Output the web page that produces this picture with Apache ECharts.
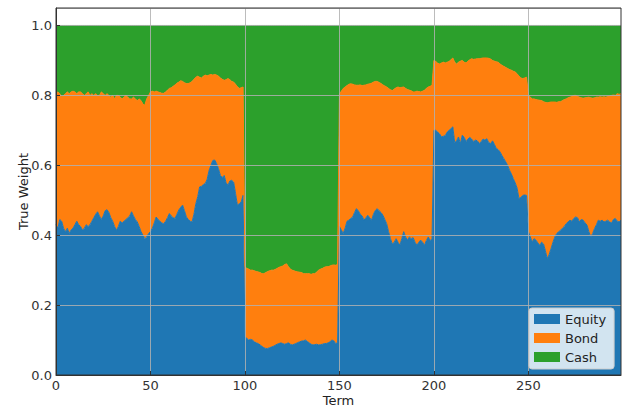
<!DOCTYPE html>
<html>
<head>
<meta charset="utf-8">
<script src="https://cdn.jsdelivr.net/npm/echarts@6/dist/echarts.min.js"></script>
<style>html,body{margin:0;padding:0;background:#fff;font-family:'DejaVu Sans',sans-serif}#c{width:624px;height:407px}</style>
</head>
<body>
<div id="c"></div>
<script>
// Equity weight (bottom band), read per term
const equity = [
0.43,0.42,0.445,0.44,0.42,0.41,0.42,0.405,0.415,0.42,
0.43,0.44,0.43,0.425,0.415,0.42,0.43,0.425,0.43,0.44,
0.45,0.46,0.467,0.455,0.445,0.455,0.47,0.473,0.465,0.45,
0.44,0.425,0.414,0.425,0.44,0.435,0.44,0.445,0.45,0.455,
0.467,0.455,0.445,0.438,0.425,0.41,0.40,0.39,0.395,0.405,
0.41,0.42,0.435,0.452,0.445,0.44,0.435,0.433,0.44,0.45,
0.462,0.455,0.45,0.448,0.46,0.472,0.48,0.486,0.47,0.452,
0.445,0.44,0.438,0.46,0.49,0.51,0.538,0.54,0.545,0.548,
0.56,0.585,0.60,0.614,0.615,0.605,0.59,0.571,0.565,0.571,
0.55,0.543,0.555,0.557,0.552,0.52,0.486,0.49,0.495,0.514,
0.108,0.105,0.10,0.102,0.10,0.095,0.092,0.09,0.086,0.082,
0.078,0.076,0.076,0.078,0.08,0.082,0.085,0.088,0.09,0.092,
0.09,0.088,0.09,0.092,0.088,0.086,0.088,0.09,0.093,0.095,
0.097,0.098,0.10,0.096,0.092,0.088,0.086,0.087,0.088,0.086,
0.087,0.088,0.09,0.09,0.092,0.095,0.10,0.098,0.09,0.092,
0.425,0.415,0.405,0.42,0.44,0.443,0.448,0.452,0.465,0.476,
0.47,0.46,0.455,0.443,0.45,0.457,0.45,0.443,0.46,0.471,
0.476,0.47,0.465,0.457,0.445,0.433,0.41,0.39,0.375,0.38,
0.39,0.38,0.371,0.39,0.41,0.395,0.386,0.395,0.39,0.393,
0.38,0.371,0.38,0.386,0.38,0.371,0.385,0.395,0.385,0.388,
0.70,0.70,0.695,0.69,0.681,0.683,0.685,0.695,0.70,0.705,
0.71,0.665,0.67,0.681,0.662,0.686,0.68,0.668,0.675,0.68,
0.675,0.668,0.672,0.67,0.662,0.668,0.675,0.672,0.676,0.665,
0.662,0.67,0.66,0.648,0.645,0.638,0.628,0.619,0.61,0.60,
0.586,0.575,0.562,0.55,0.535,0.505,0.508,0.514,0.515,0.514,
0.41,0.395,0.381,0.39,0.386,0.378,0.371,0.38,0.375,0.355,
0.333,0.345,0.362,0.38,0.395,0.405,0.41,0.414,0.42,0.425,
0.433,0.438,0.443,0.44,0.448,0.452,0.45,0.438,0.445,0.443,
0.435,0.429,0.41,0.395,0.405,0.419,0.43,0.443,0.44,0.443,
0.438,0.44,0.443,0.438,0.435,0.445,0.448,0.44,0.438,0.443
];
// Top edge of the Bond band (Equity + Bond), read per term
const bondTop = [
0.805,0.81,0.805,0.795,0.80,0.805,0.81,0.805,0.81,0.812,
0.81,0.805,0.81,0.81,0.805,0.80,0.805,0.81,0.80,0.805,
0.80,0.805,0.80,0.80,0.81,0.805,0.80,0.805,0.80,0.795,
0.80,0.79,0.80,0.80,0.795,0.79,0.795,0.80,0.795,0.79,
0.79,0.795,0.79,0.785,0.79,0.785,0.775,0.772,0.79,0.80,
0.81,0.812,0.81,0.812,0.81,0.808,0.806,0.806,0.81,0.815,
0.82,0.822,0.826,0.83,0.835,0.838,0.842,0.84,0.836,0.834,
0.834,0.836,0.84,0.846,0.852,0.855,0.852,0.85,0.855,0.858,
0.856,0.858,0.86,0.858,0.86,0.858,0.855,0.85,0.846,0.843,
0.845,0.848,0.845,0.84,0.838,0.832,0.825,0.82,0.822,0.824,
0.31,0.305,0.303,0.30,0.30,0.298,0.296,0.295,0.293,0.29,
0.29,0.293,0.296,0.298,0.30,0.30,0.302,0.305,0.308,0.31,
0.312,0.316,0.318,0.31,0.303,0.30,0.298,0.296,0.295,0.294,
0.293,0.29,0.29,0.29,0.29,0.288,0.29,0.29,0.295,0.30,
0.303,0.305,0.308,0.31,0.31,0.312,0.314,0.315,0.314,0.316,
0.805,0.812,0.82,0.824,0.828,0.832,0.833,0.832,0.83,0.829,
0.829,0.83,0.828,0.829,0.83,0.832,0.833,0.835,0.838,0.84,
0.84,0.837,0.834,0.83,0.827,0.824,0.82,0.816,0.814,0.818,
0.822,0.824,0.822,0.823,0.824,0.82,0.817,0.815,0.813,0.81,
0.81,0.812,0.811,0.81,0.812,0.815,0.82,0.824,0.826,0.829,
0.90,0.897,0.892,0.89,0.893,0.895,0.893,0.895,0.897,0.902,
0.907,0.895,0.89,0.895,0.898,0.90,0.895,0.893,0.898,0.902,
0.905,0.903,0.904,0.905,0.905,0.906,0.907,0.907,0.907,0.906,
0.904,0.90,0.898,0.896,0.895,0.89,0.886,0.883,0.88,0.877,
0.874,0.872,0.869,0.867,0.862,0.855,0.85,0.848,0.85,0.852,
0.80,0.795,0.79,0.79,0.788,0.787,0.786,0.785,0.782,0.78,
0.779,0.78,0.781,0.781,0.781,0.78,0.782,0.782,0.785,0.788,
0.79,0.793,0.795,0.797,0.80,0.80,0.797,0.795,0.793,0.792,
0.793,0.794,0.795,0.793,0.792,0.793,0.795,0.795,0.796,0.795,
0.796,0.795,0.797,0.798,0.80,0.801,0.80,0.805,0.803,0.805
];
const seriesNames = ['Equity', 'Bond', 'Cash'];
const seriesColors = ['#1f77b4', '#ff7f0e', '#2ca02c'];
const xTickStep = 50;
const yTicks = [0.0, 0.2, 0.4, 0.6, 0.8, 1.0];

const terms = equity.map((_, i) => String(i));
const bond = bondTop.map((t, i) => +(t - equity[i]).toFixed(4));
const cash = bondTop.map(t => +(1 - t).toFixed(4));
const values = [equity, bond, cash];

const G = {left: 56, top: 8, right: 3, bottom: 32};
// SVG renderer keeps every data point (canvas merges points closer than 2px)
const chart = echarts.init(document.getElementById('c'), null, {renderer: 'svg'});
const font = "'DejaVu Sans', sans-serif";
const onTick = (idx) => idx % xTickStep === 0;
chart.setOption({
  animation: false,
  backgroundColor: '#ffffff',
  textStyle: {fontFamily: font, fontSize: 13},
  grid: {left: G.left, top: G.top, right: G.right, bottom: G.bottom, containLabel: false, outerBoundsMode: 'none'},
  legend: {
    data: seriesNames, orient: 'vertical', left: 529, top: 308,
    icon: 'rect', itemWidth: 26, itemHeight: 10, itemGap: 5,
    padding: [4, 8, 5, 5],
    backgroundColor: 'rgba(255,255,255,0.8)', borderColor: '#cccccc', borderWidth: 1, borderRadius: 3,
    textStyle: {fontFamily: font, fontSize: 13, color: '#222', lineHeight: 14},
    z: 20
  },
  xAxis: {
    type: 'category', data: terms, boundaryGap: false, z: 10,
    name: 'Term', nameLocation: 'middle', nameGap: 19, nameMoveOverlap: false,
    nameTextStyle: {fontFamily: font, fontSize: 13, color: '#222'},
    axisLine: {show: true, onZero: false, lineStyle: {color: '#333', width: 1}},
    axisTick: {show: true, inside: true, length: 4, interval: onTick, lineStyle: {color: '#333'}},
    axisLabel: {fontFamily: font, fontSize: 13, color: '#333', margin: 4, interval: onTick},
    splitLine: {show: true, interval: onTick, lineStyle: {color: 'rgba(176,176,176,0.85)', width: 1}}
  },
  yAxis: {
    type: 'value', min: 0, max: 1.05, interval: 0.2, z: 10,
    name: 'True Weight', nameLocation: 'middle', nameGap: 26, nameRotate: 90, nameMoveOverlap: false,
    nameTextStyle: {fontFamily: font, fontSize: 13, color: '#222'},
    axisLine: {show: true, lineStyle: {color: '#333', width: 1}},
    axisTick: {show: true, inside: true, length: 4, lineStyle: {color: '#333'}},
    axisLabel: {fontFamily: font, fontSize: 13, color: '#333', margin: 4, showMaxLabel: false,
      formatter: v => yTicks.some(t => Math.abs(t - v) < 1e-9) ? v.toFixed(1) : ''},
    splitLine: {show: true, lineStyle: {color: 'rgba(176,176,176,0.85)', width: 1}}
  },
  graphic: [{
    type: 'rect', z: 30, silent: true,
    shape: {x: G.left, y: G.top, width: 624 - G.left - G.right, height: 407 - G.top - G.bottom},
    style: {fill: 'none', stroke: '#333', lineWidth: 1}
  }],
  series: seriesNames.map((name, k) => ({
    name, type: 'line', stack: 'total', symbol: 'none', showSymbol: false,
    color: seriesColors[k], clip: true,
    lineStyle: {width: 1, color: seriesColors[k]},
    areaStyle: {color: seriesColors[k], opacity: 1},
    itemStyle: {color: seriesColors[k]},
    emphasis: {disabled: true},
    data: values[k],
    z: 2
  }))
});
</script>
</body>
</html>
